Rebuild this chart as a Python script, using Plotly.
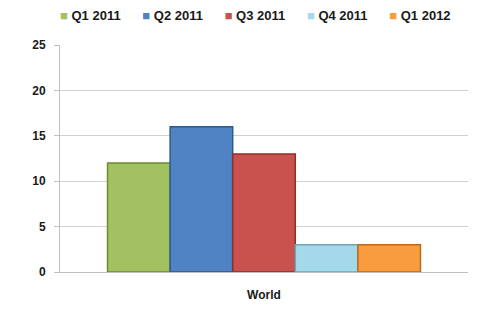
import plotly.graph_objects as go

categories = ["World"]
series_names = ["Q1 2011", "Q2 2011", "Q3 2011", "Q4 2011", "Q1 2012"]
series_values = [[12], [16], [13], [3], [3]]
colors = ["#A2C160", "#4F83C4", "#C9524F", "#A3D9E8", "#F89C3E"]
edge_colors = ["#6E8A35", "#2F5A8E", "#8E2F2C", "#6FA6B5", "#B86A1E"]

fig = go.Figure()
for name, vals, c, ec in zip(series_names, series_values, colors, edge_colors):
    fig.add_trace(go.Bar(
        x=categories, y=vals, name=name,
        marker=dict(color=c, line=dict(color=ec, width=1.5)),
    ))

# Legend drawn as a single line of text (colored squares + series names)
nb = "\u00a0"
legend_text = (nb * 6).join(
    f"<span style='color:{c}'>■</span>{nb}{n}" for n, c in zip(series_names, colors)
)
fig.add_annotation(
    text=legend_text, xref="paper", yref="paper",
    x=0.48, y=1.132, xanchor="center", yanchor="middle", showarrow=False,
    font=dict(size=13, family="Liberation Sans", weight="bold", color="#1a1a1a"),
)

fig.update_layout(
    width=480, height=316,
    margin=dict(l=60, r=12, t=45, b=44, autoexpand=False),
    paper_bgcolor="white", plot_bgcolor="white",
    barmode="group", bargap=0.233, bargroupgap=0,
    font=dict(family="Liberation Sans", size=12, color="#1a1a1a"),
    showlegend=False,
)
fig.update_yaxes(range=[0, 25], dtick=5, showgrid=True, gridcolor="#D0D0D0", gridwidth=1,
                 showline=True, linecolor="#BFBFBF", ticks="outside", tickcolor="#BFBFBF",
                 ticklen=5, ticklabelstandoff=6,
                 tickfont=dict(size=12, family="Liberation Sans", weight="bold"),
                 zeroline=False)
fig.update_xaxes(showline=True, linecolor="#BFBFBF", ticklabelstandoff=12,
                 tickfont=dict(size=12, family="Liberation Sans", weight="bold"))

fig.write_html("out.html")
